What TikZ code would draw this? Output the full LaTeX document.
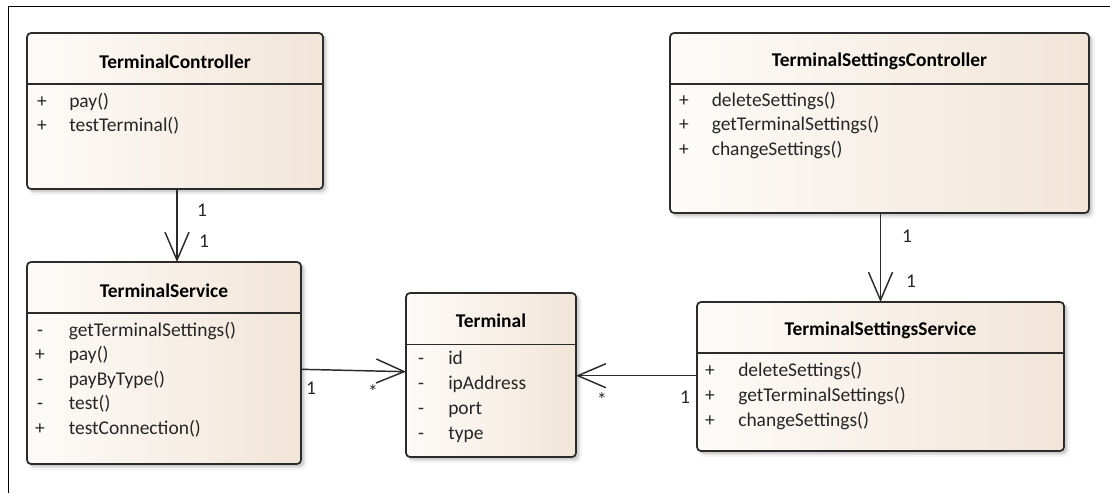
\documentclass[tikz,border=0pt]{standalone}
\usepackage{fontspec}
\setmainfont{Carlito}
\usetikzlibrary{arrows.meta,fit,calc}

\definecolor{boxleft}{HTML}{FDFBF9}
\definecolor{boxright}{HTML}{F2E5D8}
\definecolor{edge}{HTML}{2B2B2B}
\definecolor{ink}{HTML}{262626}

\newcommand\classfont{\fontsize{14.6}{17}\selectfont}

\tikzset{
  classbox/.style={draw=edge, line width=1.3pt, rounded corners=3pt,
    left color=boxleft, right color=boxright, inner sep=0pt, outer sep=0pt},
  divider/.style={draw=edge, line width=1.2pt},
  classtitle/.style={font=\classfont\bfseries, text=black, inner sep=0pt},
  member/.style={font=\classfont, anchor=west, inner sep=0pt,
    text height=0.75em, text depth=0.25em, text=ink},
  marker/.style={font=\classfont, inner sep=0pt,
    text height=0.75em, text depth=0.25em, text=ink},
  mult/.style={font=\classfont, inner sep=0pt, text=ink},
  assoc/.style={draw=edge, line width=1.1pt,
    -{Straight Barb[length=21pt,width=18pt,line width=1.1pt]}},
  frame/.style={draw=black, line width=1.1pt},
}

% class box with soft shadow and header divider
% #1 name, #2 x1, #3 y1, #4 x2, #5 y2, #6 divider y
\newcommand\umlclass[6]{%
  \fill[black,opacity=0.04,rounded corners=5pt] (#2+1,#3+1) rectangle (#4+6,#5+6);
  \fill[black,opacity=0.07,rounded corners=4pt] (#2+2,#3+2) rectangle (#4+4,#5+4);
  \fill[black,opacity=0.10,rounded corners=3pt] (#2+2,#3+2) rectangle (#4+2.5,#5+2.5);
  \node[classbox, fit={(#2,#3) (#4,#5)}] (#1) {};
  \draw[divider] (#1.west |- 0,#6) -- (#1.east |- 0,#6);
}

% one member row: #1 node name, #2 marker x, #3 text x, #4 y, #5 sign, #6 text
\newcommand\umlrow[6]{%
  \node[marker] (#1-v) at (#2,#4) {#5};
  \node[member] (#1) at (#3,#4) {#6};
}

\begin{document}
\begin{tikzpicture}[x=0.75pt,y=-0.75pt]
\useasboundingbox (0,0) rectangle (1110,493);

% outer frame (top and left edges)
\draw[frame] (8.5,493) -- (8.5,6.5) -- (1110,6.5);

% ---------- TerminalController ----------
\umlclass{tc}{27}{33}{323}{189}{84}
\node[classtitle] (tc-title) at ($(tc.north)+(0,28.5)$) {TerminalController};
\umlrow{tc-1}{42}{69}{104.5}{+}{pay()}
\umlrow{tc-2}{42}{69}{128.5}{+}{testTerminal()}

% ---------- TerminalSettingsController ----------
\umlclass{tsc}{670}{33}{1089}{213}{84}
\node[classtitle] (tsc-title) at ($(tsc.north)+(0,28.5)$) {TerminalSettingsController};
\umlrow{tsc-1}{684}{711.5}{103}{+}{deleteSettings()}
\umlrow{tsc-2}{684}{711.5}{127.5}{+}{getTerminalSettings()}
\umlrow{tsc-3}{684}{711.5}{152}{+}{changeSettings()}

% ---------- TerminalService ----------
\umlclass{ts}{27}{262}{301}{464}{313}
\node[classtitle] (ts-title) at ($(ts.north)+(0,28.5)$) {TerminalService};
\umlrow{ts-1}{40}{68.5}{333}{-}{getTerminalSettings()}
\umlrow{ts-2}{40}{68.5}{357.5}{+}{pay()}
\umlrow{ts-3}{40}{68.5}{382}{-}{payByType()}
\umlrow{ts-4}{40}{68.5}{406.5}{-}{test()}
\umlrow{ts-5}{40}{68.5}{431}{+}{testConnection()}

% ---------- Terminal ----------
\umlclass{term}{406}{293}{576}{457}{344.5}
\node[classtitle] (term-title) at ($(term.north)+(0,27.5)$) {Terminal};
\umlrow{term-1}{421}{448}{361}{-}{id}
\umlrow{term-2}{421}{448}{386}{-}{ipAddress}
\umlrow{term-3}{421}{448}{411}{-}{port}
\umlrow{term-4}{421}{448}{436}{-}{type}

% ---------- TerminalSettingsService ----------
\umlclass{tss}{697}{302}{1064}{451}{353}
\node[classtitle] (tss-title) at ($(tss.north)+(0,28.5)$) {TerminalSettingsService};
\umlrow{tss-1}{710}{738}{373}{+}{deleteSettings()}
\umlrow{tss-2}{710}{738}{398}{+}{getTerminalSettings()}
\umlrow{tss-3}{710}{738}{423}{+}{changeSettings()}

% ---------- associations ----------
\draw[assoc] (tc.south -| 177,0) -- (ts.north -| 177,0);
\node[mult] (m-tc-src) at (202,210) {1};
\node[mult] (m-tc-dst) at (204,241.5) {1};

\draw[assoc] (tsc.south -| tss.north) -- (tss.north);
\node[mult] (m-tsc-src) at (907,236) {1};
\node[mult] (m-tsc-dst) at (911,281) {1};

\draw[assoc] (ts.east |- 0,369.3) -- (term.west |- 0,371.7);
\node[mult] (m-ts-src) at (311,388) {1};
\node[mult] (m-ts-dst) at (373,392) {*};

\draw[assoc] (tss.west |- 0,375.7) -- (term.east |- 0,375.7);
\node[mult] (m-tss-dst) at (602,400) {*};
\node[mult] (m-tss-src) at (685,397) {1};

\end{tikzpicture}
\end{document}
